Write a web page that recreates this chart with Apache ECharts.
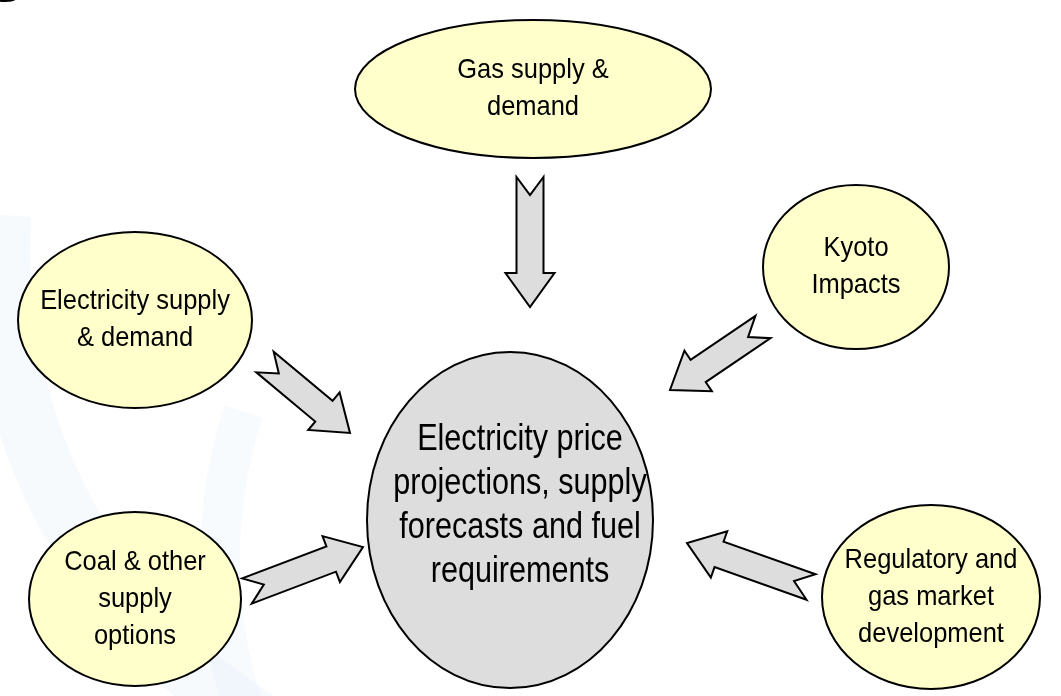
<!DOCTYPE html>
<html>
<head>
<meta charset="utf-8">
<script src="https://cdn.jsdelivr.net/npm/echarts@6/dist/echarts.min.js"></script>
<style>
  html, body { margin: 0; padding: 0; background: #fff; }
  #main { width: 1061px; height: 696px; }
</style>
</head>
<body>
<div id="main"></div>
<script>
// diagram nodes (centre + radii in pixel units of the hidden axes)
var nodeLabels = ['Gas supply &\ndemand', 'Electricity supply\n& demand', 'Kyoto\nImpacts',
    'Coal & other\nsupply\noptions', 'Regulatory and\ngas market\ndevelopment',
    'Electricity price\nprojections, supply\nforecasts and fuel\nrequirements'];
var nodeX = [533, 135, 856, 135, 931, 510];
var nodeY = [89, 320, 267, 599, 597, 520];
var nodeRX = [178, 117, 93, 106, 109, 143];
var nodeRY = [69, 88, 82, 87, 92, 168];
var nodeMain = [0, 0, 0, 0, 0, 1];

// arrows: tail centre -> tip
var arrowFromX = [530, 265, 763, 247, 811];
var arrowFromY = [177, 362, 327, 591, 587];
var arrowToX = [530, 350, 670, 363, 687];
var arrowToY = [307, 433, 390, 547, 543];

var myChart = echarts.init(document.getElementById('main'));

var nodeData = nodeLabels.map(function (t, i) {
    return [nodeX[i], nodeY[i], nodeRX[i], nodeRY[i], nodeMain[i]];
});
var arrowData = arrowFromX.map(function (x, i) {
    return [x, arrowFromY[i], arrowToX[i], arrowToY[i]];
});

function renderArrow(params, api) {
    var tx = api.value(0), ty = api.value(1), px = api.value(2), py = api.value(3);
    var dx = px - tx, dy = py - ty;
    var len = Math.sqrt(dx * dx + dy * dy);
    var ux = dx / len, uy = dy / len;
    var nx = -uy, ny = ux;
    var s = 13.5, h = 24.5, hl = 34, nd = 18;
    var bx = tx + ux * (len - hl), by = ty + uy * (len - hl);
    var pts = [
        [tx + nx * s, ty + ny * s],
        [bx + nx * s, by + ny * s],
        [bx + nx * h, by + ny * h],
        [px, py],
        [bx - nx * h, by - ny * h],
        [bx - nx * s, by - ny * s],
        [tx - nx * s, ty - ny * s],
        [tx + ux * nd, ty + uy * nd]
    ].map(function (p) { return api.coord(p); });
    return {
        type: 'polygon',
        shape: { points: pts },
        style: { fill: '#dddddd', stroke: '#000', lineWidth: 2, lineJoin: 'miter' }
    };
}

function renderNode(params, api) {
    var c = api.coord([api.value(0), api.value(1)]);
    var e = api.coord([api.value(0) + api.value(2), api.value(1) + api.value(3)]);
    var main = api.value(4) === 1;
    var text = nodeLabels[params.dataIndex];
    return {
        type: 'group',
        children: [{
            type: 'ellipse',
            shape: { cx: c[0], cy: c[1], rx: e[0] - c[0], ry: e[1] - c[1] },
            style: { fill: main ? '#dddddd' : '#ffffcc', stroke: '#000', lineWidth: 2 }
        }, {
            type: 'text',
            x: c[0] + (main ? 10 : 0),
            y: c[1] + (main ? -14 : 0),
            scaleX: main ? 0.85 : 0.91,
            style: {
                text: text,
                x: 0,
                y: 0,
                align: 'center',
                verticalAlign: 'middle',
                fontFamily: 'Liberation Sans, Arial, sans-serif',
                fontSize: main ? 36 : 28,
                lineHeight: main ? 44 : 37,
                fill: '#000'
            }
        }]
    };
}

var option = {
    animation: false,
    backgroundColor: '#fff',
    grid: { left: 0, right: 0, top: 0, bottom: 0 },
    xAxis: { type: 'value', min: 0, max: 1061, show: false },
    yAxis: { type: 'value', min: 0, max: 696, inverse: true, show: false },
    graphic: [{
        // faint background swirl
        type: 'arc',
        shape: { cx: 560, cy: 250, r: 560, startAngle: Math.PI * 0.62, endAngle: Math.PI * 1.02 },
        style: { stroke: 'rgba(170,200,230,0.09)', lineWidth: 60, fill: null },
        silent: true, z: -10
    }, {
        type: 'arc',
        shape: { cx: 700, cy: 560, r: 480, startAngle: Math.PI * 0.85, endAngle: Math.PI * 1.1 },
        style: { stroke: 'rgba(170,200,230,0.08)', lineWidth: 40, fill: null },
        silent: true, z: -10
    }, {
        type: 'ellipse',
        shape: { cx: 4, cy: -1, rx: 12, ry: 3 },
        style: { fill: '#000' },
        silent: true
    }],
    series: [{
        type: 'custom',
        coordinateSystem: 'cartesian2d',
        renderItem: renderNode,
        data: nodeData,
        encode: { x: 0, y: 1 },
        z: 2
    }, {
        type: 'custom',
        coordinateSystem: 'cartesian2d',
        renderItem: renderArrow,
        data: arrowData,
        encode: { x: [0, 2], y: [1, 3] },
        z: 3
    }]
};

myChart.setOption(option);

window.onresize = function () {
    myChart.resize();
};
</script>
</body>
</html>
